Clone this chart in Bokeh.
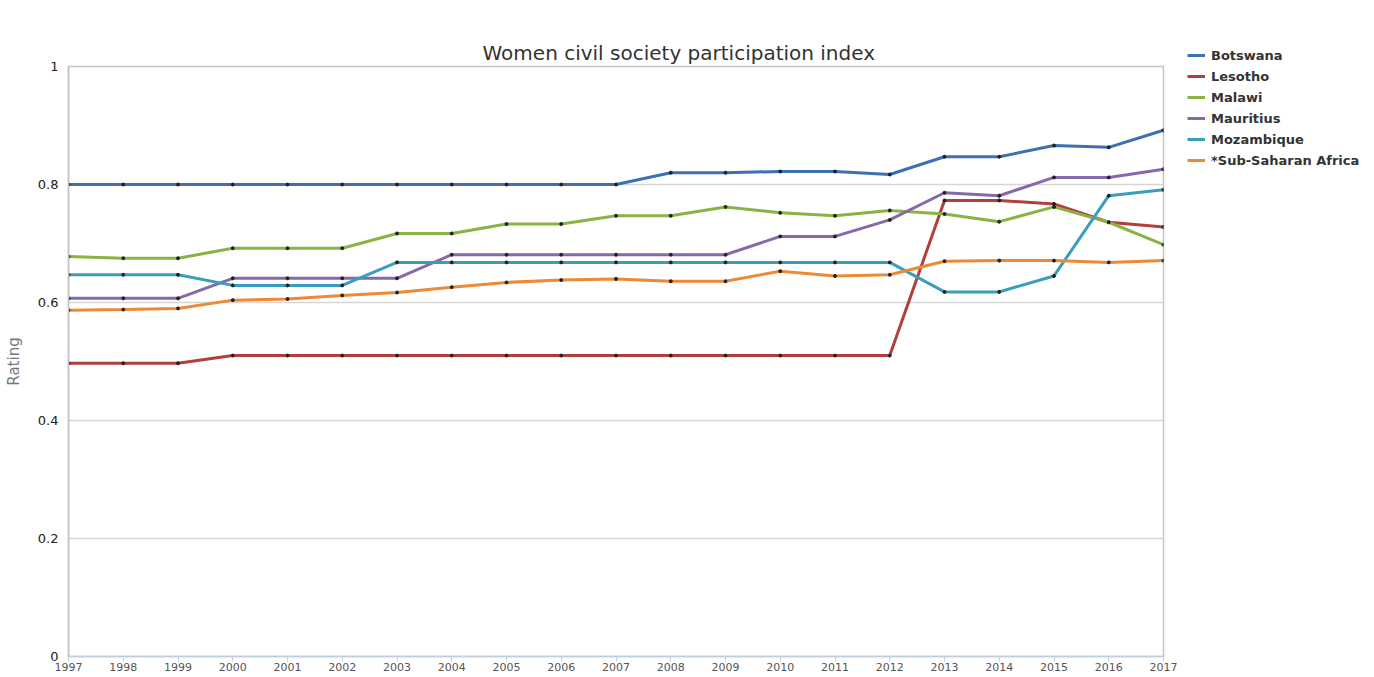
from bokeh.plotting import figure
from bokeh.models import Legend, LegendItem, FixedTicker, Range1d, Title, LinearAxis
from bokeh.embed import file_html
from bokeh.resources import INLINE

years = list(range(1997, 2018))

botswana = [0.80, 0.80, 0.80, 0.80, 0.80, 0.80, 0.80, 0.80, 0.80, 0.80, 0.80,
            0.820, 0.820, 0.822, 0.822, 0.817, 0.847, 0.847, 0.866, 0.863, 0.892]
lesotho = [0.497, 0.497, 0.497, 0.510, 0.510, 0.510, 0.510, 0.510, 0.510, 0.510, 0.510,
           0.510, 0.510, 0.510, 0.510, 0.510, 0.773, 0.773, 0.767, 0.736, 0.728]
malawi = [0.678, 0.675, 0.675, 0.692, 0.692, 0.692, 0.717, 0.717, 0.733, 0.733, 0.747,
          0.747, 0.762, 0.752, 0.747, 0.756, 0.750, 0.737, 0.762, 0.736, 0.698]
mauritius = [0.607, 0.607, 0.607, 0.641, 0.641, 0.641, 0.641, 0.681, 0.681, 0.681, 0.681,
             0.681, 0.681, 0.712, 0.712, 0.740, 0.786, 0.781, 0.812, 0.812, 0.826]
mozambique = [0.647, 0.647, 0.647, 0.629, 0.629, 0.629, 0.668, 0.668, 0.668, 0.668, 0.668,
              0.668, 0.668, 0.668, 0.668, 0.668, 0.618, 0.618, 0.645, 0.781, 0.791]
ssa = [0.587, 0.588, 0.590, 0.604, 0.606, 0.612, 0.617, 0.626, 0.634, 0.638, 0.640,
       0.636, 0.636, 0.653, 0.645, 0.647, 0.670, 0.671, 0.671, 0.668, 0.671]

series_names = ["Botswana", "Lesotho", "Malawi", "Mauritius", "Mozambique", "*Sub-Saharan Africa"]
series_values = [botswana, lesotho, malawi, mauritius, mozambique, ssa]
colors = ["#3d6fb3", "#b03f3d", "#8ab343", "#8669aa", "#3a9dbd", "#ec8a35"]

y_ticks = [0, 0.2, 0.4, 0.6, 0.8, 1]
y_labels = {0: "0", 0.2: "0.2", 0.4: "0.4", 0.6: "0.6", 0.8: "0.8", 1: "1"}
title_text = "Women civil society participation index"

BL, BR, BT, BB = 68, 211, 66, 21
FW, FH = 1095, 590
p = figure(frame_width=FW, frame_height=FH, output_backend="svg", toolbar_location=None,
           x_range=Range1d(1997, 2017), y_range=Range1d(0, 1), title=None,
           min_border_left=BL, min_border_right=BR, min_border_top=BT, min_border_bottom=BB)

# bottom x axis (the one created by figure)
xa = p.below[0]
xa.ticker = FixedTicker(ticks=years)
xa.axis_line_color = "#c0d0e0"
xa.axis_line_width = 1.5
xa.major_tick_line_color = "#c0d0e0"
xa.major_tick_in = 0
xa.major_tick_out = 5
xa.minor_tick_line_color = None
xa.major_label_standoff = 1
xa.major_label_text_font = "DejaVu Sans"
xa.major_label_text_font_size = "11px"
xa.major_label_text_color = "#555555"

ya = p.left[0]
ya.ticker = FixedTicker(ticks=y_ticks)
ya.major_label_overrides = y_labels
ya.axis_line_color = "#c4c4c4"
ya.axis_line_width = 1.5
ya.major_tick_line_color = None
ya.minor_tick_line_color = None
ya.major_tick_in = 0
ya.major_tick_out = 0
ya.major_label_standoff = 10
ya.major_label_text_font = "DejaVu Sans"
ya.major_label_text_font_size = "13px"
ya.major_label_text_color = "#222222"
ya.axis_label = "Rating"
ya.axis_label_text_font = "DejaVu Sans"
ya.axis_label_text_font_size = "15px"
ya.axis_label_text_font_style = "normal"
ya.axis_label_text_color = "#777777"
ya.axis_label_standoff = 12

# invisible spacer between the frame and the title (no ticks, no labels)
spacer = LinearAxis(ticker=FixedTicker(ticks=[]), axis_line_color=None,
                    major_tick_line_color=None, minor_tick_line_color=None,
                    major_tick_in=0, major_tick_out=29, major_label_standoff=0)
p.add_layout(spacer, "above")
main_title = Title(text=title_text, align="left", vertical_align="top", offset=414,
                   standoff=0, text_font="DejaVu Sans", text_font_size="20px",
                   text_font_style="normal", text_color="#333333")
p.add_layout(main_title, "above")

p.outline_line_color = "#c4c4c4"
p.outline_line_width = 1.5
p.background_fill_color = "white"
p.border_fill_color = "white"

p.xgrid.visible = False
p.ygrid.ticker = FixedTicker(ticks=y_ticks)
p.ygrid.grid_line_color = "#d6d6d6"
p.ygrid.grid_line_width = 1.5

items = []
for name, vals, c in zip(series_names, series_values, colors):
    r = p.line(years, vals, line_color=c, line_width=3)
    p.scatter(years, vals, size=3, color="#222222")
    items.append(LegendItem(label=name, renderers=[r]))

leg_h = 6 * 20 + 5 * 1
legend = Legend(items=items, location=(24, FH - 21 - leg_h + 42),
                glyph_width=18, glyph_height=20, label_height=20, spacing=1,
                padding=0, margin=0, label_standoff=6,
                label_text_font="DejaVu Sans", label_text_font_size="13px",
                label_text_font_style="bold", label_text_color="#333333",
                border_line_alpha=0, background_fill_alpha=0)
p.add_layout(legend, "right")

open("out.html", "w").write(file_html(p, INLINE))
